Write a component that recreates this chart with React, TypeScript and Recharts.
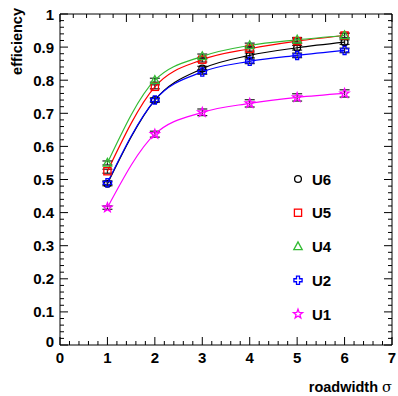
import React from 'react';
import { ComposedChart, Line, XAxis, YAxis, ErrorBar } from 'recharts';

const roadwidth = [1, 2, 3, 4, 5, 6];
const u6 = [0.487, 0.74, 0.835, 0.875, 0.898, 0.915];
const u5 = [0.525, 0.78, 0.862, 0.895, 0.918, 0.935];
const u4 = [0.55, 0.8, 0.872, 0.905, 0.922, 0.935];
const u2 = [0.49, 0.74, 0.825, 0.857, 0.875, 0.89];
const u1 = [0.415, 0.637, 0.703, 0.73, 0.748, 0.76];
const errSmall = [0.006, 0.006, 0.007, 0.007, 0.007, 0.007];
const errU1 = [0.005, 0.009, 0.01, 0.011, 0.011, 0.011];

const yMajor = [0, 0.1, 0.2, 0.3, 0.4, 0.5, 0.6, 0.7, 0.8, 0.9, 1];
const yLabels = ['0', '0.1', '0.2', '0.3', '0.4', '0.5', '0.6', '0.7', '0.8', '0.9', '1'];
const xTicks = Array.from({ length: 36 }, (_, i) => Math.round(i * 20) / 100);
const yTicks = Array.from({ length: 51 }, (_, i) => Math.round(i * 2) / 100);

const data = roadwidth.map((x, i) => ({
  x,
  U6: u6[i], U5: u5[i], U4: u4[i], U2: u2[i], U1: u1[i],
  e: errSmall[i], e1: errU1[i],
}));

const FONT = '"Liberation Sans", Arial, Helvetica, sans-serif';
const GREEN = '#33bb33';

const isMajor = (v: number, step: number) => Math.abs(v / step - Math.round(v / step)) < 1e-6;

function Marker({ kind, cx, cy, color }: { kind: string; cx: number; cy: number; color: string }) {
  const sw = 1.3;
  if (kind === 'circle') return <circle cx={cx} cy={cy} r={3.4} fill="none" stroke={color} strokeWidth={sw} />;
  if (kind === 'square') return <rect x={cx - 3.6} y={cy - 3.6} width={7.2} height={7.2} fill="none" stroke={color} strokeWidth={sw} />;
  if (kind === 'triangle') {
    const p = `${cx},${cy - 4.6} ${cx - 4.2},${cy + 3.2} ${cx + 4.2},${cy + 3.2}`;
    return <polygon points={p} fill="none" stroke={color} strokeWidth={sw} />;
  }
  if (kind === 'cross') {
    const a = 1.5, b = 4.1;
    const pts = [
      [-a, -b], [a, -b], [a, -a], [b, -a], [b, a], [a, a], [a, b], [-a, b], [-a, a], [-b, a], [-b, -a], [-a, -a],
    ].map(([x, y]) => `${cx + x},${cy + y}`).join(' ');
    return <polygon points={pts} fill="none" stroke={color} strokeWidth={sw} />;
  }
  const pts: string[] = [];
  for (let i = 0; i < 10; i++) {
    const r = i % 2 === 0 ? 4.8 : 2;
    const ang = -Math.PI / 2 + (i * Math.PI) / 5;
    pts.push(`${cx + r * Math.cos(ang)},${cy + r * Math.sin(ang)}`);
  }
  return <polygon points={pts.join(' ')} fill="none" stroke={color} strokeWidth={sw} />;
}

const series = [
  { key: 'U6', color: '#000000', kind: 'circle', err: 'e' },
  { key: 'U5', color: '#ff0000', kind: 'square', err: 'e' },
  { key: 'U4', color: GREEN, kind: 'triangle', err: 'e' },
  { key: 'U2', color: '#0000ff', kind: 'cross', err: 'e' },
  { key: 'U1', color: '#ff00ff', kind: 'star', err: 'e1' },
];

const BottomTick = (props: any) => {
  const { x, y, payload } = props;
  const v = payload.value;
  const major = isMajor(v, 1);
  return (
    <g>
      <line x1={x} x2={x} y1={y} y2={y - (major ? 8 : 4)} stroke="#000" strokeWidth={1} />
      {major && (
        <text x={x} y={y + 12} textAnchor="middle" dominantBaseline="central" fontFamily={FONT} fontWeight="bold" fontSize={15} fill="#000">
          {String(v)}
        </text>
      )}
    </g>
  );
};
const TopTick = (props: any) => {
  const { x, y, payload } = props;
  const major = isMajor(payload.value, 1);
  return <line x1={x} x2={x} y1={y} y2={y + (major ? 8 : 4)} stroke="#000" strokeWidth={1} />;
};
const LeftTick = (props: any) => {
  const { x, y, payload } = props;
  const v = payload.value;
  const major = isMajor(v, 0.1);
  const idx = yMajor.findIndex((m) => Math.abs(m - v) < 1e-6);
  return (
    <g>
      <line x1={x} x2={x + (major ? 8 : 4)} y1={y} y2={y} stroke="#000" strokeWidth={1} />
      {major && idx >= 0 && (
        <text x={x - 6} y={v === 0 ? y - 4 : y} textAnchor="end" dominantBaseline="central" fontFamily={FONT} fontWeight="bold" fontSize={15} fill="#000">
          {yLabels[idx]}
        </text>
      )}
    </g>
  );
};
const RightTick = (props: any) => {
  const { x, y, payload } = props;
  const major = isMajor(payload.value, 0.1);
  return <line x1={x} x2={x - (major ? 8 : 4)} y1={y} y2={y} stroke="#000" strokeWidth={1} />;
};

export default function App() {
  return (
    <div style={{ position: 'absolute', left: 0, top: 0, width: 398, height: 396, background: '#fff' }}>
      <ComposedChart width={398} height={396} data={data} margin={{ top: 13, right: 5, bottom: 50, left: 59 }}>
        <XAxis dataKey="x" type="number" domain={[0, 7]} ticks={xTicks} interval={0} height={1}
          tickSize={0} tickMargin={0} tickLine={false} axisLine={{ stroke: '#000' }} tick={BottomTick} allowDataOverflow />
        <XAxis xAxisId="top" orientation="top" type="number" domain={[0, 7]} ticks={xTicks} interval={0} height={1}
          tickSize={0} tickMargin={0} tickLine={false} axisLine={{ stroke: '#000' }} tick={TopTick} allowDataOverflow />
        <YAxis type="number" domain={[0, 1]} ticks={yTicks} interval={0} width={1}
          tickSize={0} tickMargin={0} tickLine={false} axisLine={{ stroke: '#000' }} tick={LeftTick} allowDataOverflow />
        <YAxis yAxisId="right" orientation="right" type="number" domain={[0, 1]} ticks={yTicks} interval={0} width={1}
          tickSize={0} tickMargin={0} tickLine={false} axisLine={{ stroke: '#000' }} tick={RightTick} allowDataOverflow />
        {series.map((s) => (
          <Line key={s.key} dataKey={s.key} type="monotone" stroke={s.color} strokeWidth={1.2}
            isAnimationActive={false} legendType="none"
            dot={(p: any) => <Marker key={`${s.key}-${p.index}`} kind={s.kind} cx={p.cx} cy={p.cy} color={s.color} />}
            activeDot={false}>
            <ErrorBar dataKey={s.err} width={5} stroke="#222" strokeWidth={1.2} direction="y" />
          </Line>
        ))}
        <text x={17} y={8} transform="rotate(-90 17 8)" textAnchor="end" dominantBaseline="central"
          fontFamily={FONT} fontWeight="bold" fontSize={14.5} fill="#000">efficiency</text>
        <text x={392} y={387} textAnchor="end" dominantBaseline="central"
          fontFamily={FONT} fontWeight="bold" fontSize={14.5} fill="#000">roadwidth <tspan fontWeight="normal" fontFamily='"DejaVu Serif", serif'>σ</tspan></text>
        {series.map((s, i) => (
          <g key={`leg-${s.key}`}>
            <Marker kind={s.kind} cx={298} cy={179 + i * 33.75} color={s.color} />
            <text x={312} y={179 + i * 33.75} dominantBaseline="central" fontFamily={FONT} fontWeight="bold" fontSize={15} fill="#000">{s.key}</text>
          </g>
        ))}
      </ComposedChart>
    </div>
  );
}
